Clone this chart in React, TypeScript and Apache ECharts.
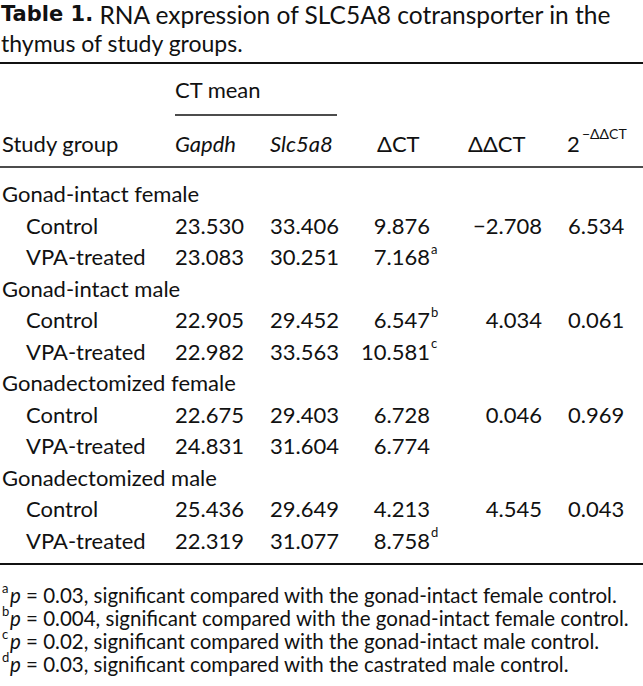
import React, { useEffect, useRef } from "react";
import * as echarts from "echarts";

const titleBold = "Table 1.";
const titleLine1 = " RNA expression of SLC5A8 cotransporter in the";
const titleLine2 = "thymus of study groups.";

const headerGroup = "CT mean";
const headerStudy = "Study group";
const headerGapdh = "Gapdh";
const headerSlc = "Slc5a8";
const headerDCT = "ΔCT";
const headerDDCT = "ΔΔCT";
const headerFoldBase = "2";
const headerFoldExp = "−ΔΔCT";

const groups = ["Gonad-intact female", "Gonad-intact male", "Gonadectomized female", "Gonadectomized male"];
const treatments = ["Control", "VPA-treated"];
const gapdh = [23.53, 23.083, 22.905, 22.982, 22.675, 24.831, 25.436, 22.319];
const slc5a8 = [33.406, 30.251, 29.452, 33.563, 29.403, 31.604, 29.649, 31.077];
const deltaCT = [9.876, 7.168, 6.547, 10.581, 6.728, 6.774, 4.213, 8.758];
const deltaSup = ["", "a", "b", "c", "", "", "", "d"];
const deltaDeltaCT = [-2.708, 4.034, 0.046, 4.545];
const foldChange = [6.534, 0.061, 0.969, 0.043];

const footLetters = ["a", "b", "c", "d"];
const footP = ["0.03", "0.004", "0.02", "0.03"];
const footText = [
  "significant compared with the gonad-intact female control.",
  "significant compared with the gonad-intact female control.",
  "significant compared with the gonad-intact male control.",
  "significant compared with the castrated male control.",
];

const FONT = "Lato, 'Noto Sans', sans-serif";
const INK = "#111111";
const FS = 22;

const fmt = (v: number) => (v < 0 ? "−" : "") + Math.abs(v).toFixed(3);

export default function App() {
  const ref = useRef<HTMLDivElement>(null);
  useEffect(() => {
    document.body.style.margin = "0";
    const chart = echarts.init(ref.current!, null, { renderer: "svg" });
    const els: any[] = [];
    const txt = (x: number, y: number, text: string, opts: any = {}) => {
      els.push({
        type: "text",
        x,
        y,
        silent: true,
        style: {
          text,
          fontFamily: FONT,
          fontSize: FS,
          fill: INK,
          align: "left",
          verticalAlign: "middle",
          ...opts,
        },
      });
    };
    const rule = (x1: number, x2: number, y: number, w: number) => {
      els.push({
        type: "line",
        silent: true,
        shape: { x1, y1: y, x2, y2: y },
        style: { stroke: INK, lineWidth: w },
      });
    };

    // Title
    els.push({
      type: "text",
      x: 1,
      y: 14,
      silent: true,
      style: {
        text: "{b|" + titleBold + "}{r|" + titleLine1 + "}",
        fill: INK,
        verticalAlign: "middle",
        rich: {
          b: { fontWeight: "bold", fontFamily: "'DejaVu Sans', sans-serif", fontSize: 21, fill: INK },
          r: { fontFamily: FONT, fontSize: 24.5, fill: INK },
        },
      },
    });
    txt(1, 43, titleLine2, { fontSize: 23 });

    // Columns
    const xStudy = 2;
    const xIndent = 26;
    const xGapdh = 175;
    const xSlc = 270;
    const xDCT = 377;
    const xDCTRight = 430;
    const xDDCT = 468;
    const xDDCTRight = 542;
    const xFold = 568;

    rule(0, 643, 63, 2);
    txt(xGapdh, 89, headerGroup);
    rule(xGapdh, 337, 115, 1.5);
    const yHead = 143;
    txt(xStudy, yHead, headerStudy);
    txt(xGapdh, yHead, headerGapdh, { fontStyle: "italic" });
    txt(xSlc, yHead, headerSlc, { fontStyle: "italic" });
    txt(xDCT, yHead, headerDCT);
    txt(xDDCT, yHead, headerDDCT);
    txt(567, yHead, headerFoldBase);
    txt(582, yHead - 10, headerFoldExp, { fontSize: 14 });
    rule(0, 643, 167, 1.5);

    // Body
    const y0 = 193.5;
    const pitch = 31.5;
    let row = 0;
    groups.forEach((g, gi) => {
      txt(xStudy, y0 + row * pitch, g);
      row++;
      treatments.forEach((t, ti) => {
        const i = gi * 2 + ti;
        const y = y0 + row * pitch;
        txt(xIndent, y, t);
        txt(xGapdh, y, fmt(gapdh[i]));
        txt(xSlc, y, fmt(slc5a8[i]));
        txt(xDCTRight, y, fmt(deltaCT[i]), { align: "right" });
        if (deltaSup[i]) txt(xDCTRight + 1, y - 8, deltaSup[i], { fontSize: 13 });
        if (ti === 0) {
          txt(xDDCTRight, y, fmt(deltaDeltaCT[gi]), { align: "right" });
          txt(xFold, y, fmt(foldChange[gi]));
        }
        row++;
      });
    });
    const yLast = y0 + (row - 1) * pitch;
    rule(0, 643, yLast + 24, 2);

    // Footnotes
    const fy0 = yLast + 55;
    const fp = 23;
    footLetters.forEach((l, k) => {
      const y = fy0 + k * fp;
      txt(2, y - 7, l, { fontSize: 13 });
      els.push({
        type: "text",
        x: 10,
        y,
        silent: true,
        style: {
          text: "{i|p} = " + footP[k] + ", " + footText[k],
          fontFamily: FONT,
          fontSize: 20.5,
          fill: INK,
          verticalAlign: "middle",
          rich: { i: { fontStyle: "italic", fontFamily: FONT, fontSize: 20.5, fill: INK } },
        },
      });
    });

    chart.setOption({
      animation: false,
      backgroundColor: "#ffffff",
      graphic: { elements: els },
    });
    return () => chart.dispose();
  }, []);
  return <div ref={ref} style={{ width: 643, height: 686 }} />;
}
